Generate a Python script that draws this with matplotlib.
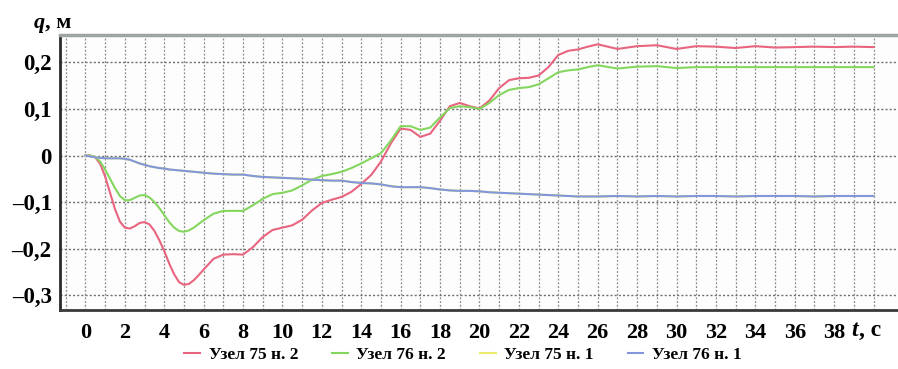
import matplotlib
matplotlib.use("Agg")
import matplotlib.pyplot as plt

plt.rcParams['font.family'] = ['Liberation Serif', 'DejaVu Serif']

# ---- data ----
t = [0, 0.25, 0.5, 0.75, 1, 1.25, 1.5, 1.75, 2, 2.25, 2.5, 2.75, 3, 3.25, 3.5, 3.75,
     4, 4.25, 4.5, 4.75, 5, 5.25, 5.5, 5.75, 6,
     6.5, 7, 7.5, 8, 8.5, 9, 9.5, 10, 10.5, 11, 11.5, 12, 12.5, 13, 13.5, 14, 14.5,
     15, 15.5, 16, 16.5, 17, 17.5, 18, 18.5, 19, 19.5, 20, 20.5, 21, 21.5, 22, 22.5,
     23, 23.5, 24, 24.5, 25, 25.5, 26,
     27, 28, 29, 30, 31, 32, 33, 34, 35, 36, 37, 38, 39, 40]

q_75_2 = [0, 0, -0.004, -0.018, -0.045, -0.08, -0.115, -0.142, -0.155, -0.157, -0.152, -0.145,
          -0.143, -0.148, -0.162, -0.182, -0.205, -0.232, -0.255, -0.272, -0.278, -0.276,
          -0.268, -0.257, -0.245,
          -0.222, -0.213, -0.212, -0.213, -0.197, -0.175, -0.16, -0.155, -0.15, -0.138,
          -0.118, -0.102, -0.095, -0.089, -0.078, -0.061, -0.042, -0.013, 0.026, 0.058,
          0.055, 0.04, 0.047, 0.075, 0.106, 0.113, 0.106, 0.101, 0.118, 0.145,
          0.162, 0.166, 0.167, 0.172, 0.19, 0.216, 0.225, 0.228, 0.234, 0.239,
          0.229, 0.235, 0.237, 0.229, 0.235, 0.234, 0.231, 0.235, 0.232, 0.233, 0.234, 0.233, 0.234, 0.233]

q_76_2 = [0, 0, -0.003, -0.013, -0.03, -0.05, -0.07, -0.087, -0.096, -0.096, -0.091, -0.086,
          -0.085, -0.09, -0.1, -0.113, -0.128, -0.143, -0.155, -0.162, -0.164, -0.161,
          -0.155, -0.147, -0.139,
          -0.125, -0.119, -0.119, -0.119, -0.107, -0.093, -0.083, -0.08, -0.075, -0.064,
          -0.052, -0.044, -0.04, -0.035, -0.027, -0.017, -0.006, 0.005, 0.032, 0.063,
          0.063, 0.055, 0.06, 0.082, 0.102, 0.106, 0.104, 0.1, 0.113, 0.13,
          0.141, 0.145, 0.147, 0.153, 0.166, 0.179, 0.183, 0.185, 0.19, 0.194,
          0.187, 0.191, 0.192, 0.188, 0.19, 0.19, 0.19, 0.19, 0.19, 0.19, 0.19, 0.19, 0.19, 0.19]

q_76_1 = [0, -0.002, -0.004, -0.005, -0.006, -0.006, -0.006, -0.006, -0.007, -0.009, -0.013, -0.017,
          -0.02, -0.023, -0.025, -0.027, -0.028, -0.03, -0.031, -0.032, -0.033, -0.034,
          -0.035, -0.036, -0.037,
          -0.039, -0.04, -0.041, -0.041, -0.044, -0.046, -0.047, -0.048, -0.049, -0.05,
          -0.052, -0.053, -0.054, -0.054, -0.057, -0.059, -0.06, -0.062, -0.066, -0.068,
          -0.068, -0.068, -0.07, -0.073, -0.075, -0.076, -0.076, -0.077, -0.079, -0.08,
          -0.081, -0.082, -0.083, -0.084, -0.085, -0.086, -0.087, -0.088, -0.088, -0.088,
          -0.087, -0.088, -0.087, -0.088, -0.087, -0.087, -0.088, -0.087, -0.087, -0.087, -0.088, -0.087, -0.087, -0.087]

# node 75 n.1 lies hidden beneath node 76 n.1 in the reference
q_75_1 = list(q_76_1)

series_labels = ["Узел 75 н. 2", "Узел 76 н. 2", "Узел 75 н. 1", "Узел 76 н. 1"]
series_colors = ["#e8647f", "#84d65e", "#ecec6a", "#8196dc"]

x_ticks = list(range(0, 40, 2))
x_ticklabels = [str(v) for v in x_ticks]
y_ticks = [0.2, 0.1, 0.0, -0.1, -0.2, -0.3]
y_ticklabels = ["0,2", "0,1", "0", "–0,1", "–0,2", "–0,3"]

# ---- figure ----
W, H = 898, 369
fig = plt.figure(figsize=(W / 100, H / 100), dpi=100)
ax = fig.add_axes([60 / W, (H - 310) / H, 838 / W, 275 / H])
ax.set_facecolor("#fdfdfd")

for q, lab, col in zip([q_75_2, q_76_2, q_75_1, q_76_1], series_labels, series_colors):
    ax.plot(t, q, color=col, lw=1.5, label=lab, zorder=3, solid_joinstyle="round")

ax.set_xlim(-1.29, 41.24)
ax.set_ylim(-0.332, 0.259)

ax.set_xticks(x_ticks)
ax.set_xticklabels(x_ticklabels)
ax.set_xticks(list(range(-1, 41)), minor=True)
ax.set_yticks(y_ticks)
ax.set_yticklabels(y_ticklabels)

ax.tick_params(axis="both", which="both", length=0)
ax.tick_params(axis="x", pad=9, labelsize=16)
ax.tick_params(axis="y", pad=6, labelsize=16.5)
for lbl in ax.get_xticklabels() + ax.get_yticklabels():
    lbl.set_fontweight("bold")

ax.grid(True, which="both", axis="x", color="#8a8a8a", linestyle=(0, (1.5, 1.5)), lw=0.9, zorder=1)
ax.grid(True, which="major", axis="y", color="#6e6e6e", linestyle=(0, (1.5, 1.5)), lw=1.0, zorder=1)

ax.spines["right"].set_visible(False)
ax.spines["top"].set_color("#9ea3a3")
ax.spines["top"].set_linewidth(2.5)
ax.spines["left"].set_color("#2a2a2a")
ax.spines["left"].set_linewidth(2.0)
ax.spines["bottom"].set_color("#3a3a3a")
ax.spines["bottom"].set_linewidth(2.0)

# axis titles
ytxt = (H - 23) / H
fig.text(34 / W, ytxt, "q", style="italic", weight="bold", fontsize=16, va="center")
fig.text(45 / W, ytxt, ", м", weight="bold", fontsize=16, va="center")
xtxt = (H - 330) / H
fig.text(851 / W, xtxt, "t", style="italic", weight="bold", fontsize=17, va="center")
fig.text(859 / W, xtxt, ", c", weight="bold", fontsize=17, va="center")

leg = fig.legend(loc="center", bbox_to_anchor=(463 / W, (H - 355) / H), ncol=4,
                 frameon=False, handlelength=0.9, handletextpad=0.5, columnspacing=1.95,
                 prop={"weight": "bold", "size": 12.5})

fig.savefig("out.png", dpi=100)
